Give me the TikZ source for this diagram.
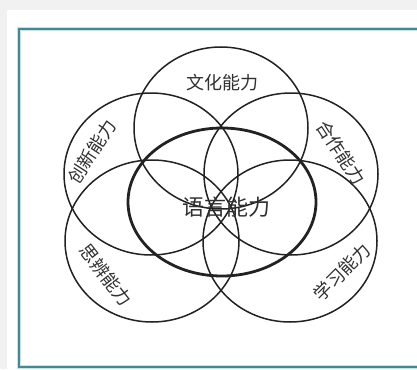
\documentclass[tikz,border=0pt]{standalone}
\usepackage{fontspec}
\newfontfamily\cjk{Noto Sans CJK SC}
\usetikzlibrary{positioning}
\usetikzlibrary{shapes,backgrounds}
\definecolor{framec}{RGB}{78,132,142}
\definecolor{haloc}{RGB}{190,230,236}
\definecolor{inkc}{RGB}{34,34,34}
\definecolor{textc}{RGB}{48,48,48}
\definecolor{paperc}{RGB}{241,241,241}

\begin{document}
\begin{tikzpicture}[x=1pt,y=-1pt,
ring/.style={draw=inkc,line width=1.5pt,ellipse,inner sep=0pt,minimum width=174pt,minimum height=162pt},
core/.style={draw=inkc,line width=2.8pt,ellipse,inner sep=0pt,minimum width=188pt,minimum height=148pt},
lbl/.style={text=textc,font=\cjk\fontsize{18pt}{18pt}\selectfont,inner sep=0pt}]
\useasboundingbox (0,0) rectangle (417,369);
\clip (0,0) rectangle (417,369);
\fill[paperc] (0,0) rectangle (417,369);
\fill[white] (7,10) rectangle (417,369);
\draw[haloc,line width=4pt] (19,29) rectangle (430,367);
\draw[framec,line width=1.8pt] (19,29) rectangle (430,367);
% five outer rings
\node[ring] (wenhua) at (221,128) {};
\node[ring] (chuangxin) at (151,174) {};
\node[ring] (hezuo) at (291,174) {};
\node[ring] (sibian) at (152,241) {};
\node[ring] (xuexi) at (290,241) {};
% centre
\node[core] (yuyan) at (222,202) {};
\node[lbl,font=\cjk\fontsize{22pt}{22pt}\selectfont] (yuyanT) at (226,207) {语言能力};
\node[lbl] (wenhuaT) at (222,83) {文化能力};
\node[lbl,rotate=57] (chuangxinT) at (92,152) {创新能力};
\node[lbl,rotate=-57] (hezuoT) at (341,153) {合作能力};
\node[lbl,rotate=-52] (sibianT) at (106,275) {思辨能力};
\node[lbl,rotate=45] (xuexiT) at (342,272) {学习能力};
\end{tikzpicture}
\end{document}
